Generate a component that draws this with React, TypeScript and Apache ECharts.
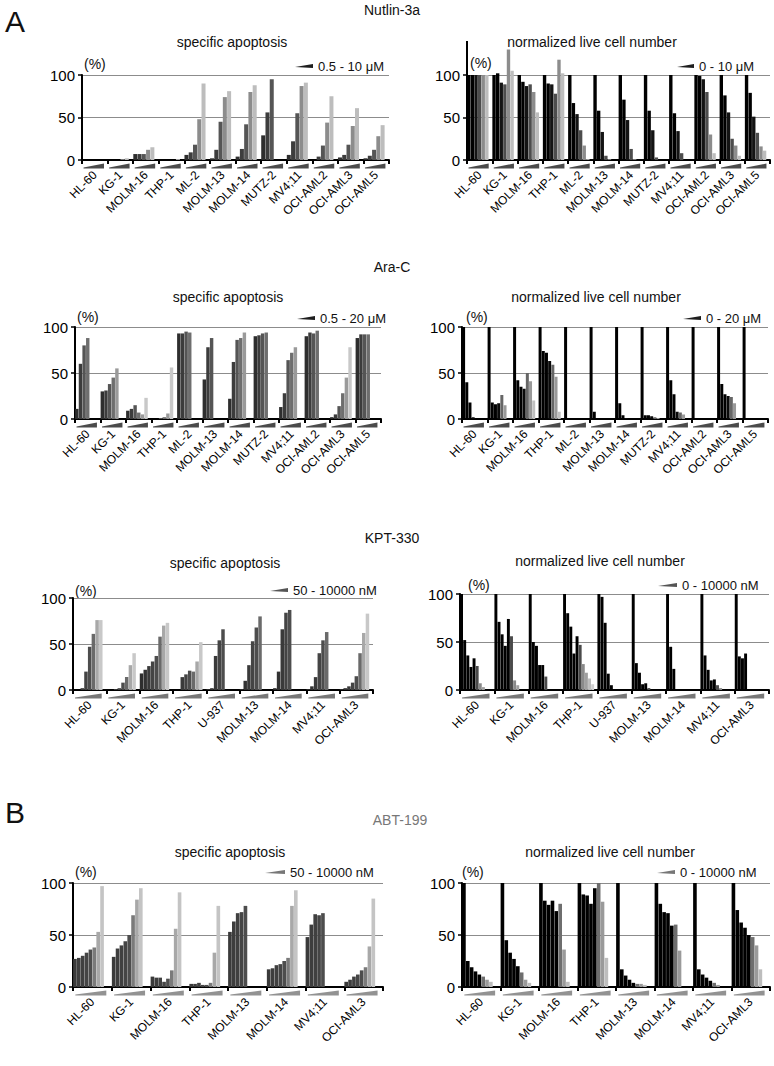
import React, { useEffect, useRef } from 'react';
import * as echarts from 'echarts';

const FONT = '"Liberation Sans", Arial, Helvetica, sans-serif';

// ---------- categories ----------
const nutlinCells = ['HL-60', 'KG-1', 'MOLM-16', 'THP-1', 'ML-2', 'MOLM-13', 'MOLM-14', 'MUTZ-2', 'MV4;11', 'OCI-AML2', 'OCI-AML3', 'OCI-AML5'];
const araCells = ['HL-60', 'KG-1', 'MOLM-16', 'THP-1', 'ML-2', 'MOLM-13', 'MOLM-14', 'MUTZ-2', 'MV4;11', 'OCI-AML2', 'OCI-AML3', 'OCI-AML5'];
const kptCells = ['HL-60', 'KG-1', 'MOLM-16', 'THP-1', 'U-937', 'MOLM-13', 'MOLM-14', 'MV4;11', 'OCI-AML3'];
const abtCells = ['HL-60', 'KG-1', 'MOLM-16', 'THP-1', 'MOLM-13', 'MOLM-14', 'MV4;11', 'OCI-AML3'];

const yTicks = [0, 50, 100];

// ---------- values (%), one inner array per cell line, ordered by concentration ----------
const nutlinApoptosis = [
  [0, 0, 0, 0, 0],
  [0, 0, 0, 1, 2],
  [7, 7, 7, 12, 15],
  [0, 0, 0, 0, 1],
  [6, 9, 18, 48, 90],
  [2, 12, 45, 74, 81],
  [4, 13, 42, 80, 88],
  [29, 56, 95],
  [6, 22, 55, 87, 91],
  [0, 4, 17, 44, 75],
  [3, 6, 18, 40, 61],
  [2, 5, 12, 28, 41],
];
const nutlinLive = [
  [100, 100, 100, 100, 100, 100],
  [100, 102, 91, 89, 130, 105],
  [100, 92, 87, 89, 80, 56],
  [100, 90, 89, 78, 118, 102],
  [100, 67, 54, 35, 17, 1],
  [100, 58, 33, 5, 1, 0],
  [100, 71, 47, 13, 1, 0],
  [100, 58, 35, 3, 0, 0],
  [100, 55, 34, 8, 0, 0],
  [100, 99, 95, 80, 30, 8],
  [100, 76, 56, 25, 17, 5],
  [100, 79, 51, 32, 16, 11],
];
const araApoptosis = [
  [11, 60, 80, 88],
  [30, 31, 38, 45, 55],
  [9, 11, 15, 7, 5, 23],
  [0, 0, 1, 2, 6, 56],
  [93, 93, 95, 94],
  [43, 78, 88],
  [22, 62, 86, 88, 94],
  [90, 91, 93, 94],
  [13, 28, 64, 72, 78],
  [90, 94, 93, 96],
  [2, 5, 14, 28, 45, 78],
  [88, 92, 92, 92],
];
const araLive = [
  [100, 40, 18, 2, 0, 0],
  [100, 18, 16, 17, 26, 15],
  [100, 42, 35, 33, 50, 41, 20],
  [100, 74, 72, 63, 59, 46, 8],
  [100, 0, 0, 0, 0, 0],
  [100, 8, 1, 0, 0, 0],
  [100, 17, 4, 1, 0, 0],
  [100, 4, 4, 3, 2, 1],
  [100, 42, 27, 8, 7, 5],
  [100, 0, 0, 0, 0, 0],
  [100, 38, 27, 25, 24, 17],
  [100, 1, 0, 0, 0, 0],
];
const kptApoptosis = [
  [0, 0, 2, 20, 47, 61, 76, 76],
  [0, 0, 1, 2, 8, 14, 27, 40],
  [18, 22, 26, 31, 37, 58, 70, 73],
  [0, 0, 14, 17, 21, 20, 31, 52],
  [1, 2, 37, 54, 66],
  [1, 10, 27, 53, 68, 80],
  [2, 20, 66, 84, 87],
  [1, 4, 14, 40, 54, 63],
  [1, 2, 4, 8, 15, 40, 62, 83],
];
const kptLive = [
  [100, 52, 36, 24, 33, 25, 7, 3],
  [100, 71, 58, 46, 74, 56, 10, 5],
  [100, 50, 46, 26, 26, 14],
  [100, 80, 66, 38, 56, 47, 27, 18, 12, 6],
  [100, 97, 70, 17, 5],
  [100, 28, 18, 6, 7, 2],
  [100, 45, 22, 1, 0],
  [100, 36, 21, 10, 11, 5, 2],
  [100, 35, 33, 38],
];
const abtApoptosis = [
  [27, 28, 30, 33, 36, 38, 53, 97],
  [29, 37, 40, 44, 50, 69, 84, 95],
  [10, 9, 9, 5, 8, 16, 56, 91],
  [3, 3, 4, 2, 2, 4, 33, 78],
  [53, 63, 71, 72, 78],
  [17, 18, 21, 22, 25, 28, 78, 93],
  [48, 60, 70, 69, 71],
  [5, 7, 10, 12, 16, 19, 39, 85],
];
const abtLive = [
  [100, 25, 19, 15, 12, 10, 7, 5],
  [100, 45, 33, 27, 20, 14, 7, 4],
  [100, 83, 79, 83, 73, 80, 36, 5],
  [100, 89, 88, 80, 95, 100, 82, 28],
  [100, 17, 11, 7, 4, 3, 3, 2],
  [100, 80, 72, 71, 59, 60, 35],
  [100, 17, 12, 9, 6, 4, 2],
  [100, 74, 62, 57, 50, 48, 40, 17],
];

// ---------- styles ----------
const shadesNutApo = ['#2e2e2e', '#3d3d3d', '#555555', '#8c8c8c', '#bdbdbd'];
const shadesNutLive = ['#000000', '#000000', '#141414', '#4d4d4d', '#8c8c8c', '#bdbdbd'];
const shadesAraApo = ['#2e2e2e', '#3c3c3c', '#555555', '#6e6e6e', '#9a9a9a', '#c8c8c8'];
const shadesAraLive = ['#000000', '#000000', '#000000', '#0a0a0a', '#666666', '#999999', '#c0c0c0'];
const shadesKptApo = ['#2e2e2e', '#333333', '#3a3a3a', '#444444', '#4d4d4d', '#6a6a6a', '#a8a8a8', '#c8c8c8'];
const shadesKptLive = ['#000000', '#000000', '#000000', '#000000', '#000000', '#4a4a4a', '#8a8a8a', '#a0a0a0', '#bdbdbd', '#d0d0d0'];
const shadesAbtApo = ['#3a3a3a', '#3d3d3d', '#404040', '#454545', '#4d4d4d', '#7a7a7a', '#a8a8a8', '#c4c4c4'];
const shadesAbtLive = ['#000000', '#000000', '#000000', '#000000', '#000000', '#6e6e6e', '#9a9a9a', '#bdbdbd'];

type Panel = {
  cells: string[];
  values: number[][];
  shades: string[];
  slots: number;
  gap: number;
  grid: { left: number; top: number; width: number; height: number };
  wedge: string;
  axisTop?: number;
};

const panels: Panel[] = [
  { cells: nutlinCells, values: nutlinApoptosis, shades: shadesNutApo, slots: 5, gap: 1, grid: { left: 82, top: 75, width: 307, height: 85 }, wedge: '#1e1e1e' },
  { cells: nutlinCells, values: nutlinLive, shades: shadesNutLive, slots: 6, gap: 1, grid: { left: 467, top: 75, width: 303, height: 85 }, wedge: '#1e1e1e', axisTop: 140 },
  { cells: araCells, values: araApoptosis, shades: shadesAraApo, slots: 6, gap: 1, grid: { left: 75, top: 327, width: 306, height: 92 }, wedge: '#1e1e1e' },
  { cells: araCells, values: araLive, shades: shadesAraLive, slots: 7, gap: 1, grid: { left: 462, top: 327, width: 306, height: 92 }, wedge: '#1e1e1e' },
  { cells: kptCells, values: kptApoptosis, shades: shadesKptApo, slots: 8, gap: 1, grid: { left: 73, top: 598, width: 300, height: 92 }, wedge: '#555555' },
  { cells: kptCells, values: kptLive, shades: shadesKptLive, slots: 10, gap: 1, grid: { left: 460, top: 594, width: 309, height: 96 }, wedge: '#555555' },
  { cells: abtCells, values: abtApoptosis, shades: shadesAbtApo, slots: 8, gap: 2, grid: { left: 73, top: 883, width: 310, height: 104 }, wedge: '#777777' },
  { cells: abtCells, values: abtLive, shades: shadesAbtLive, slots: 8, gap: 2, grid: { left: 462, top: 883, width: 308, height: 104 }, wedge: '#777777' },
];

type Txt = { t: string; x: number; y: number; s: number; a: 'left' | 'center' | 'right'; c?: string };
const texts: Txt[] = [
  { t: 'A', x: 5, y: 21, s: 30, a: 'left' },
  { t: 'Nutlin-3a', x: 392, y: 10, s: 14, a: 'center' },
  { t: 'specific apoptosis', x: 232, y: 42, s: 14, a: 'center' },
  { t: 'normalized live cell number', x: 592, y: 42, s: 14, a: 'center' },
  { t: '(%)', x: 84, y: 64, s: 14, a: 'left' },
  { t: '(%)', x: 470, y: 63, s: 14, a: 'left' },
  { t: 'Ara-C', x: 392, y: 267, s: 14, a: 'center' },
  { t: 'specific apoptosis', x: 228, y: 297, s: 14, a: 'center' },
  { t: 'normalized live cell number', x: 596, y: 297, s: 14, a: 'center' },
  { t: '(%)', x: 77, y: 317, s: 14, a: 'left' },
  { t: '(%)', x: 466, y: 317, s: 14, a: 'left' },
  { t: 'KPT-330', x: 392, y: 538, s: 14, a: 'center' },
  { t: 'specific apoptosis', x: 225, y: 563, s: 14, a: 'center' },
  { t: 'normalized live cell number', x: 600, y: 561, s: 14, a: 'center' },
  { t: '(%)', x: 75, y: 591, s: 14, a: 'left' },
  { t: '(%)', x: 468, y: 585, s: 14, a: 'left' },
  { t: 'B', x: 5, y: 812, s: 30, a: 'left' },
  { t: 'ABT-199', x: 400, y: 820, s: 14, a: 'center', c: '#777777' },
  { t: 'specific apoptosis', x: 230, y: 852, s: 14, a: 'center' },
  { t: 'normalized live cell number', x: 610, y: 852, s: 14, a: 'center' },
  { t: '(%)', x: 75, y: 872, s: 14, a: 'left' },
  { t: '(%)', x: 462, y: 872, s: 14, a: 'left' },
];

type Leg = { t: string; x: number; y: number; w: number; c: string };
const legends: Leg[] = [
  { t: '0.5 - 10 \u03bcM', x: 295, y: 66, w: 18, c: '#1e1e1e' },
  { t: '0 - 10 \u03bcM', x: 677, y: 66, w: 17, c: '#1e1e1e' },
  { t: '0.5 - 20 \u03bcM', x: 297, y: 318, w: 18, c: '#1e1e1e' },
  { t: '0 - 20 \u03bcM', x: 683, y: 318, w: 18, c: '#1e1e1e' },
  { t: '50 - 10000 nM', x: 270, y: 590, w: 18, c: '#555555' },
  { t: '0 - 10000 nM', x: 658, y: 585, w: 19, c: '#555555' },
  { t: '50 - 10000 nM', x: 265, y: 872, w: 20, c: '#777777' },
  { t: '0 - 10000 nM', x: 657, y: 872, w: 18, c: '#777777' },
];

function buildOption() {
  const grid: any[] = [];
  const xAxis: any[] = [];
  const yAxis: any[] = [];
  const series: any[] = [];
  const graphic: any[] = [];

  panels.forEach((p, pi) => {
    grid.push({ ...p.grid, containLabel: false });
    const per = p.slots + p.gap;
    const slotNames: string[] = [];
    const barData: any[] = [];
    p.cells.forEach((cell, gi) => {
      for (let j = 0; j < per; j++) {
        slotNames.push(cell + '#' + j);
        const v = j < p.slots ? p.values[gi][j] : undefined;
        if (v === undefined) barData.push({ value: null });
        else barData.push({ value: v, itemStyle: { color: p.shades[j] } });
      }
    });
    xAxis.push({ type: 'category', gridIndex: pi, data: slotNames, show: false, boundaryGap: true });
    xAxis.push({
      type: 'category', gridIndex: pi, data: p.cells, position: 'bottom', boundaryGap: true,
      axisLine: { show: true, lineStyle: { color: '#000', width: 2 } },
      axisTick: { show: true, interval: 0, length: 4, lineStyle: { color: '#000', width: 2 } },
      axisLabel: { interval: 0, rotate: 45, fontSize: 12, color: '#000', margin: 13, fontFamily: FONT },
      splitLine: { show: false },
    });
    yAxis.push({
      type: 'value', gridIndex: pi, min: yTicks[0], max: yTicks[yTicks.length - 1], interval: 50,
      axisLine: { show: true, lineStyle: { color: '#000', width: 2 } },
      axisTick: { show: true, length: 4, lineStyle: { color: '#000', width: 1.5 } },
      axisLabel: { fontSize: 15, color: '#000', margin: 7, fontFamily: FONT },
      splitLine: { show: true, lineStyle: { color: '#8c8c8c', width: 1 } },
    });
    series.push({
      type: 'bar', xAxisIndex: pi * 2, yAxisIndex: pi, data: barData,
      barCategoryGap: '6%', clip: false, silent: true, z: 3,
    });
    const bandW = p.grid.width / p.cells.length;
    series.push({
      type: 'scatter', xAxisIndex: pi * 2 + 1, yAxisIndex: pi,
      data: p.cells.map((_, i) => [i, 0]),
      symbol: 'path://M0,4 L40,0 L40,5 L0,5 Z',
      symbolSize: [bandW * 0.8, 5], symbolOffset: [-bandW * 0.04, 6],
      itemStyle: { color: p.wedge }, clip: false, silent: true, z: 4,
    });
    if (p.axisTop) {
      const top = p.grid.top - ((p.axisTop - 100) * p.grid.height) / 100;
      graphic.push({
        type: 'line', shape: { x1: p.grid.left, y1: top, x2: p.grid.left, y2: p.grid.top + 1 },
        style: { stroke: '#000', lineWidth: 2 }, silent: true,
      });
    }
  });

  texts.forEach((t) => {
    graphic.push({
      type: 'text', x: t.x, y: t.y, silent: true,
      style: { text: t.t, fontSize: t.s, fontFamily: FONT, fill: t.c || '#111', textAlign: t.a, textVerticalAlign: 'middle' },
    });
  });
  legends.forEach((l) => {
    graphic.push({
      type: 'polygon', silent: true,
      shape: { points: [[l.x, l.y + 1], [l.x + l.w, l.y - 2], [l.x + l.w, l.y + 2]] },
      style: { fill: l.c },
    });
    graphic.push({
      type: 'text', x: l.x + l.w + 5, y: l.y, silent: true,
      style: { text: l.t, fontSize: 13, fontFamily: FONT, fill: '#111', textAlign: 'left', textVerticalAlign: 'middle' },
    });
  });

  return {
    animation: false,
    backgroundColor: '#ffffff',
    textStyle: { fontFamily: FONT },
    grid, xAxis, yAxis, series, graphic,
  };
}

export default function App() {
  const ref = useRef<HTMLDivElement>(null);
  useEffect(() => {
    if (!ref.current) return;
    const chart = echarts.init(ref.current, undefined, { renderer: 'svg' });
    chart.setOption(buildOption() as any);
    return () => chart.dispose();
  }, []);
  return (
    <div style={{ position: 'absolute', left: 0, top: 0, width: 774, height: 1066, background: '#fff' }}>
      <div ref={ref} style={{ width: 774, height: 1066 }} />
    </div>
  );
}
